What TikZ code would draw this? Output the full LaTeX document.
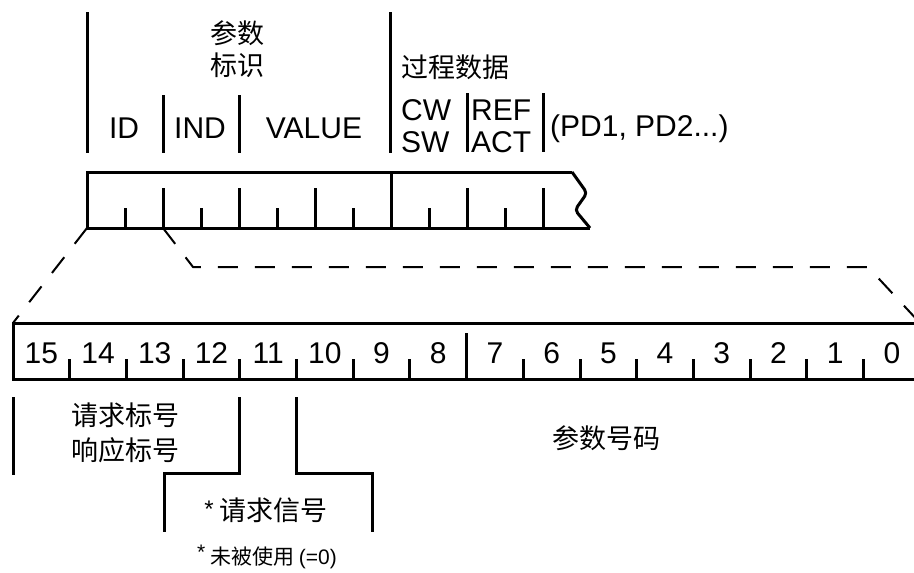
\documentclass[tikz,border=0pt]{standalone}
\usepackage{fontspec}
\setmainfont{Liberation Sans}
\newfontfamily\cjk{Noto Sans CJK SC}
\usetikzlibrary{positioning}
\tikzset{
  bar/.style={line width=3pt},
  zoomline/.style={line width=2pt,dash pattern=on 20pt off 17pt},
  lbl/.style={font=\fontsize{30}{32}\selectfont,inner sep=0pt},
  hz/.style={font=\cjk\fontsize{27}{35}\selectfont,inner sep=0pt},
  note/.style={font=\cjk\fontsize{21}{24}\selectfont,inner sep=0pt},
}

\begin{document}
\begin{tikzpicture}[x=1pt,y=-1pt]
  \useasboundingbox (0,0) rectangle (914,573);
  % header separators
  \draw[bar] (87,12) -- (87,153);
  \draw[bar] (390,12) -- (390,153);
  \draw[bar] (163,95) -- (163,153);
  \draw[bar] (239,95) -- (239,153);
  \draw[bar] (467,93) -- (467,152);
  \draw[bar] (543,93) -- (543,152);
  \node[hz] (par) at (237,33) {参数};
  \node[hz] (ident) at (237,65) {标识};
  \node[lbl] (id) at (124,128) {ID};
  \node[lbl] (ind) at (200,128) {IND};
  \node[lbl] (val) at (314,128) {VALUE};
  \node[hz,anchor=west] (pd) at (401,67) {过程数据};
  \node[lbl,anchor=west,align=left] (cw) at (401,126) {CW\\SW};
  \node[lbl,anchor=west,align=left] (ref) at (471,126) {REF\\ACT};
  \node[lbl,anchor=west] (pdn) at (550,129) {(PD1, PD2...)};
  % telegram
  \draw[bar] (572,172) -- (87,172) -- (87,228) -- (590,228);
  \draw[bar,rounded corners=4pt] (572,172) -- (587,193) -- (575,210) -- (590,228);
  \foreach \i in {1,...,12}{
    \pgfmathsetmacro\tx{87+38*\i}
    \ifnum\i=8 \draw[bar] (\tx,172) -- (\tx,228);
    \else\ifodd\i \draw[bar] (\tx,208) -- (\tx,228);
    \else \draw[bar] (\tx,188) -- (\tx,228);
    \fi\fi
  }
  % zoom lines
  \draw[zoomline] (87,228) -- (13,323);
  \draw[zoomline] (163,228) -- (193,267) -- (868,267) -- (920,323);
  % parameter word
  \draw[bar] (920,323) -- (13,323) -- (13,379) -- (920,379);
  \foreach \k in {1,...,15}{
    \pgfmathsetmacro\bx{13+56.7*\k}
    \ifnum\k=8 \draw[bar] (\bx,333) -- (\bx,379);
    \else \draw[bar] (\bx,359) -- (\bx,379);
    \fi
  }
  \foreach \k in {0,...,15}{
    \pgfmathsetmacro\cx{13+56.7*(\k+0.5)}
    \pgfmathtruncatemacro\bit{15-\k}
    \node[lbl] (b\bit) at (\cx,353) {\bit};
  }
  % fields
  \draw[bar] (13,397) -- (13,475);
  \draw[bar] (239,397) -- (239,473) -- (164,473) -- (164,532);
  \draw[bar] (296,397) -- (296,473) -- (372,473) -- (372,532);
  \node[hz,align=center] (ak) at (125,433) {请求标号\\响应标号};
  \node[hz] (pnu) at (606,438) {参数号码};
  \node[hz] (spm) at (266,510) {\raisebox{3pt}{\rmfamily\fontsize{24}{24}\selectfont *} 请求信号};
  \node[note] (unused) at (267,557) {\raisebox{5pt}{\rmfamily *} 未被使用 {\rmfamily(=0)}};
\end{tikzpicture}
\end{document}
